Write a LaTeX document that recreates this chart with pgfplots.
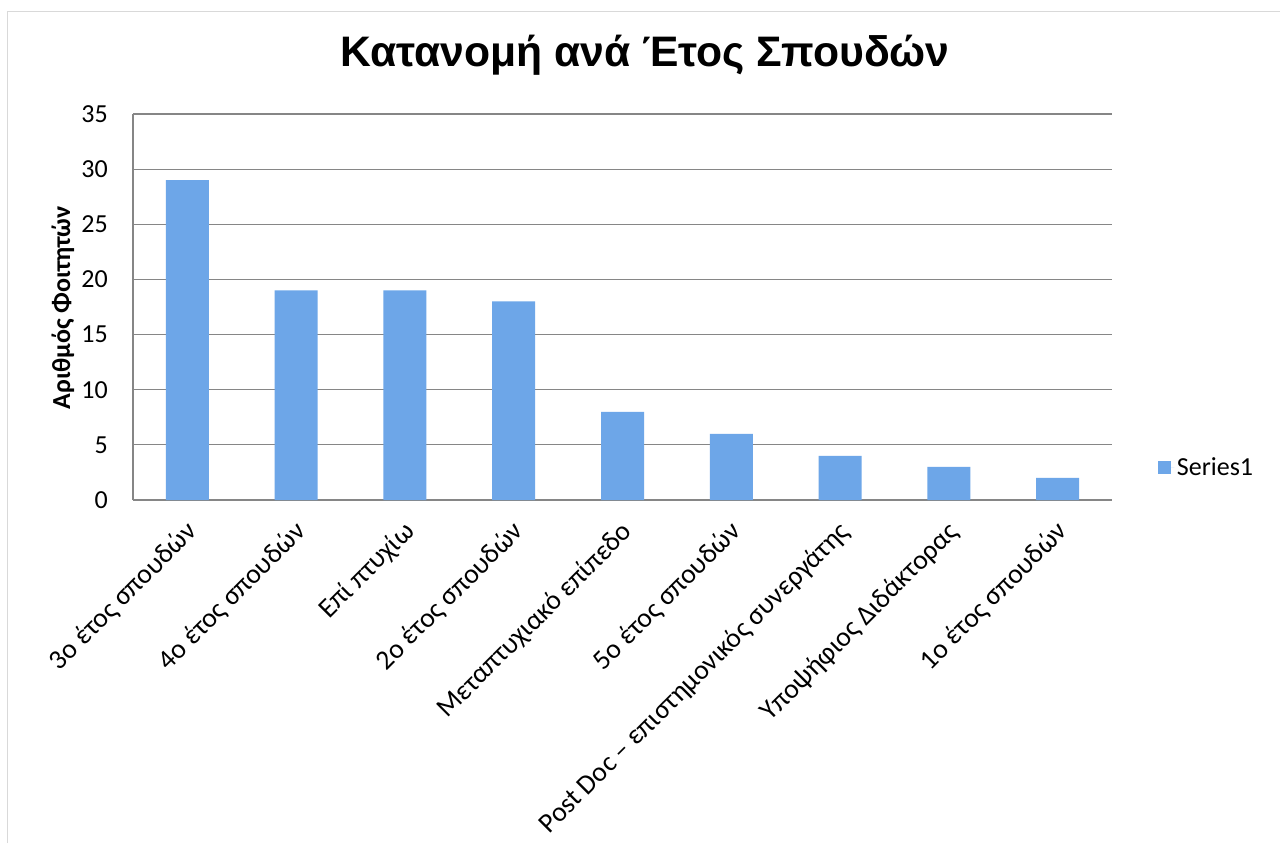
\documentclass[border=0pt]{standalone}
\usepackage{pgfplots}
\pgfplotsset{compat=1.18}
\usepackage{fontspec}
\setmainfont{Carlito}
\newfontfamily\titlefont{Liberation Sans}
\definecolor{barblue}{RGB}{109,166,232}
\definecolor{gridgray}{RGB}{134,134,134}
\definecolor{framegray}{RGB}{217,217,217}
\begin{document}
\begin{tikzpicture}
\useasboundingbox (0,0) rectangle (960pt,632.25pt);
\fill[white] (0,0) rectangle (960pt,632.25pt);
\draw[framegray, line width=1.1pt] (5.8pt,0) -- (5.8pt,623.6pt) -- (960pt,623.6pt);
\begin{axis}[
  at={(99.75pt,257.25pt)}, anchor=south west,
  scale only axis, width=734.25pt, height=289.5pt,
  xmin=-0.5, xmax=8.5, ymin=0, ymax=35,
  ytick={0,5,...,35},
  xtick={0,...,8},
  xticklabels={3o έτος σπουδών,4o έτος σπουδών,Επί πτυχίω,2o έτος σπουδών,Μεταπτυχιακό επίπεδο,5o έτος σπουδών,Post Doc – επιστημονικός συνεργάτης,Υποψήφιος Διδάκτορας,1o έτος σπουδών},
  axis x line=bottom, axis y line=left,
  axis line style={gridgray, line width=0.9pt, -},
  ymajorgrids, grid style={gridgray, line width=0.9pt},
  major tick length=0pt,
  tick label style={font=\fontsize{19.5}{23}\selectfont},
  /pgf/number format/assume math mode=true,
  yticklabel style={anchor=east, inner sep=0pt, xshift=-18.75pt},
  xticklabel style={font=\fontsize{20.7}{24}\selectfont, xshift=-2.25pt, yshift=-14.25pt, rotate=45, anchor=north east, inner sep=0pt},
  legend style={draw=none, fill=none, at={(1.047,0.083)}, anchor=west, font=\fontsize{19.5}{23}\selectfont, inner sep=0pt},
  legend image code/.code={\fill[barblue] (0pt,-4.875pt) rectangle (9.75pt,4.875pt); \path (0pt,0pt) -- (12pt,0pt);},
  clip=false,
]
\addplot[ybar, bar width=32.25pt, fill=barblue, draw=none] coordinates {
(0,29) (1,19) (2,19) (3,18) (4,8) (5,6) (6,4) (7,3) (8,2)};
\addlegendentry{Series1}
\end{axis}
\node[font=\titlefont\bfseries\fontsize{32}{38}\selectfont] at (483.75pt,591pt) {Κατανομή ανά Έτος Σπουδών};
\node[rotate=90, font=\bfseries\fontsize{19.5}{23}\selectfont] at (47.25pt,401.25pt) {Αριθμός Φοιτητών};
\end{tikzpicture}
\end{document}
